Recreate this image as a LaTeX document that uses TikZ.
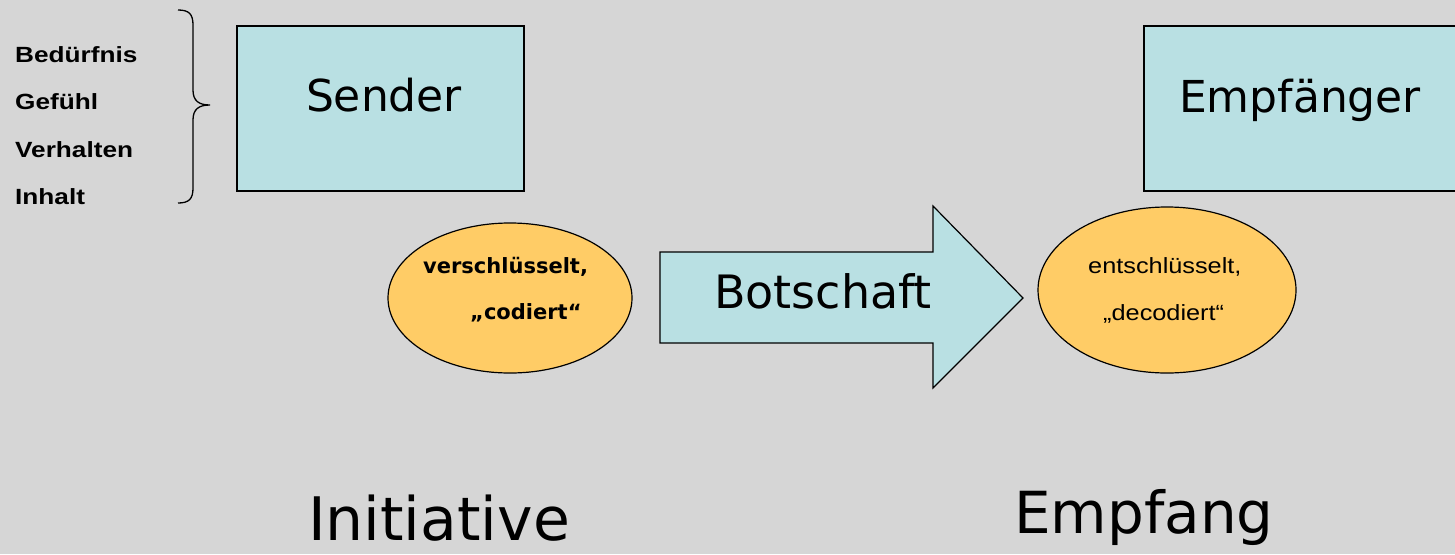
\documentclass[tikz,border=0pt]{standalone}
\usepackage{fontspec}
\usepackage{graphicx}
\setmainfont{Liberation Sans}
\newfontfamily\comic{DejaVu Sans}
\usetikzlibrary{shapes.geometric}
\definecolor{bg}{RGB}{214,214,214}
\definecolor{boxfill}{RGB}{185,224,227}
\definecolor{ellfill}{RGB}{255,204,102}
\newcommand\wide[2]{\scalebox{#1}[1]{#2}}
\begin{document}
\begin{tikzpicture}[x=1pt,y=-1pt,
  box/.style={draw=black,line width=1.3pt,fill=boxfill,rectangle,inner sep=0pt},
  oval/.style={draw=black,line width=1.2pt,fill=ellfill,ellipse,inner sep=0pt},
  arrowshape/.style={draw=black,line width=1.2pt,fill=boxfill,line join=miter},
  brace/.style={draw=black,line width=1.3pt},
  bigtext/.style={font=\comic\fontsize{44}{50}\selectfont,inner sep=0pt,anchor=base},
  hugetext/.style={font=\comic\fontsize{60}{66}\selectfont,inner sep=0pt,anchor=base},
  lab/.style={font=\bfseries\fontsize{22}{24}\selectfont,inner sep=0pt,anchor=base west},
  ovaltextb/.style={font=\comic\bfseries\fontsize{21}{24}\selectfont,inner sep=0pt,anchor=base west},
  ovaltext/.style={font=\fontsize{22}{24}\selectfont,inner sep=0pt,anchor=base west}
]
\useasboundingbox (0,0) rectangle (1455,554);
\clip (0,0) rectangle (1455,554);
\fill[bg] (0,0) rectangle (1455,554);

% left labels
\node[lab] (l1) at (15,62) {\wide{1.19}{Bedürfnis}};
\node[lab] (l2) at (15,109.5) {\wide{1.19}{Gefühl}};
\node[lab] (l3) at (15,157) {\wide{1.19}{Verhalten}};
\node[lab] (l4) at (15,204.5) {\wide{1.19}{Inhalt}};

% brace
\draw[brace] (178,10) .. controls (189,10) and (193,14) .. (193,25)
  -- (193,90) .. controls (193,101) and (199,105) .. (210,105)
  .. controls (199,105) and (193,109) .. (193,120)
  -- (193,188) .. controls (193,199) and (189,203) .. (178,203);

% boxes
\node[box,minimum width=287pt,minimum height=165pt] (sender) at (380.5,108.5) {};
\node[bigtext] (sendert) at (384,111) {Sender};
\node[box,minimum width=330pt,minimum height=165pt] (empf) at (1309,108.5) {};
\node[bigtext] (empft) at (1300,112) {Empfänger};

% ellipses
\node[oval,minimum width=244pt,minimum height=150pt] (enc) at (510,298) {};
\node[ovaltextb] (enc1) at (423,273) {verschlüsselt,};
\node[ovaltextb] (enc2) at (470,319) {„codiert“};
\node[oval,minimum width=258pt,minimum height=166pt] (dec) at (1167,290) {};
\node[ovaltext] (dec1) at (1088,273) {\wide{1.15}{entschlüsselt,}};
\node[ovaltext] (dec2) at (1103,320) {\wide{1.15}{„decodiert“}};

% arrow
\draw[arrowshape] (660,252) -- (933,252) -- (933,206) -- (1023,298)
  -- (933,388) -- (933,343) -- (660,343) -- cycle;
\node[bigtext,font=\comic\fontsize{46}{50}\selectfont] (bot) at (823,308) {Botschaft};

% bottom words
\node[hugetext,font=\comic\fontsize{60}{66}\selectfont] (init) at (439,540) {Initiative};
\node[hugetext,font=\comic\fontsize{58}{66}\selectfont] (empfang) at (1144,533) {Empfang};
\end{tikzpicture}
\end{document}
